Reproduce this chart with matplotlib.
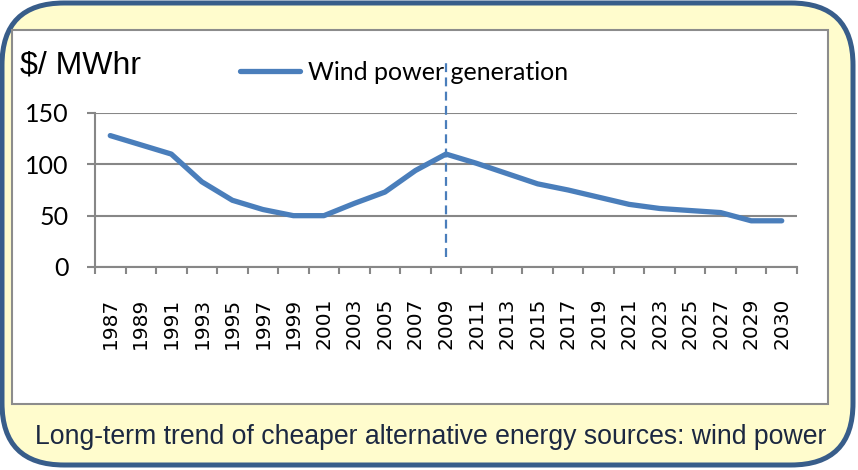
import numpy as np
import matplotlib
matplotlib.use("Agg")
import matplotlib.pyplot as plt
from matplotlib.patches import FancyBboxPatch, Rectangle

# data
years = ["1987", "1989", "1991", "1993", "1995", "1997", "1999", "2001",
         "2003", "2005", "2007", "2009", "2011", "2013", "2015", "2017",
         "2019", "2021", "2023", "2025", "2027", "2029", "2030"]
cost = [128, 119, 110, 83, 65, 56, 50, 50,
        62, 73, 94, 110, 101, 91, 81, 75,
        68, 61, 57, 55, 53, 45, 45]
marker_year = "2009"
series_name = "Wind power generation"
unit_label = "$/ MWhr"
caption = "Long-term trend of cheaper alternative energy sources: wind power"

W, H = 858, 470
line_blue = "#4A7EBB"
grid_gray = "#878787"

fig = plt.figure(figsize=(W / 100, H / 100), dpi=100)

# background drawn in pixel units
bg = fig.add_axes([0, 0, 1, 1])
bg.set_xlim(0, W)
bg.set_ylim(H, 0)
bg.axis("off")
bg.set_zorder(0)

outer = FancyBboxPatch((2, 3), 851, 462, boxstyle="round,pad=0,rounding_size=62",
                       facecolor="#FFFCCD", edgecolor="#385D8A", linewidth=3.6)
bg.add_patch(outer)
inner = Rectangle((12, 30), 816, 374, facecolor="white", edgecolor="#8C8C8C", linewidth=1.5)
bg.add_patch(inner)

bg.text(20, 74, unit_label, fontsize=23, family="Liberation Sans", va="baseline", ha="left")
bg.text(431, 437, caption, fontsize=19.2, family="Liberation Sans", color="#1C2841",
        ha="center", va="center")

# main chart
x0, x1 = 95, 797
y0, y1 = 113, 267
ax = fig.add_axes([x0 / W, (H - y1) / H, (x1 - x0) / W, (y1 - y0) / H])
ax.set_zorder(1)
ax.patch.set_alpha(0)

xpos = np.arange(len(years))
ax.plot(xpos, cost, color=line_blue, linewidth=3.8, solid_capstyle="round",
        solid_joinstyle="round", label=series_name, zorder=3)

# dashed marker at the present year
mi = years.index(marker_year)
ax.plot([xpos[mi], xpos[mi]], [10, 201], color=line_blue, linewidth=1.6,
        linestyle=(0, (4, 2.4)), clip_on=False, zorder=4)

ax.set_xlim(-0.5, len(years) - 0.5)
ax.set_ylim(0, 150)

ax.set_yticks([0, 50, 100, 150])
ax.yaxis.grid(True, color=grid_gray, linewidth=1.5)
ax.set_axisbelow(True)
ax.tick_params(axis="y", length=6, width=1.5, color=grid_gray, pad=13, labelsize=18)
for lab in ax.get_yticklabels():
    lab.set_family("Lato")

# tick marks between categories, labels on the categories
ax.set_xticks(np.arange(-0.5, len(years)), labels=[])
ax.set_xticks(xpos, labels=years, minor=True)
ax.tick_params(axis="x", which="major", length=5, width=1.5, color=grid_gray)
ax.tick_params(axis="x", which="minor", length=0, pad=22, labelsize=14.5, labelrotation=90)
for lab in ax.get_xticklabels(minor=True):
    lab.set_family("DejaVu Sans")

for s in ["top", "right"]:
    ax.spines[s].set_visible(False)
for s in ["left", "bottom"]:
    ax.spines[s].set_color(grid_gray)
    ax.spines[s].set_linewidth(1.5)

fig.legend(loc="center left", bbox_to_anchor=(240 / W, (H - 72) / H), frameon=False,
           handlelength=2.4, handletextpad=0.3, borderpad=0, borderaxespad=0,
           prop={"family": "Lato", "size": 18})

fig.savefig("out.png", dpi=100)
